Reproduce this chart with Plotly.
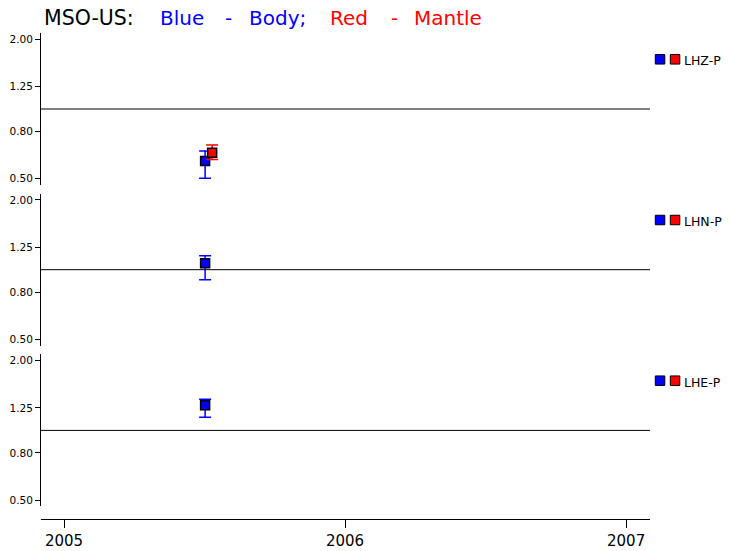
import plotly.graph_objects as go

# ---------------- data ----------------
years = [2005, 2006, 2007]
year_labels = ["2005", "2006", "2007"]
channels = ["LHZ-P", "LHN-P", "LHE-P"]

body_time = [2005.502, 2005.502, 2005.502]
body_val = [0.596, 1.065, 1.285]
body_hi = [0.659, 1.149, 1.362]
body_lo = [0.502, 0.905, 1.139]

mantle_time = [2005.527, None, None]
mantle_val = [0.647, None, None]
mantle_hi = [0.699, None, None]
mantle_lo = [0.606, None, None]

ytick_vals = [0.5, 0.8, 1.25, 2.0]
ytick_text = ["0.50", "0.80", "1.25", "2.00"]
ref_level = 1.0

# ---------------- layout helpers ----------------
W, H = 733, 551
ML, MR, MT, MB = 41, 83, 33, 32
PW, PH = W - ML - MR, H - MT - MB
x_range = [2004.918, 2007.085]
y_range = [-0.328, 0.328]  # log10


def px(x):
    return (x - ML) / PW


def py(y):
    return (H - MB - y) / PH


panel_top = [33, 193.7, 354.4]
panel_h = 152
FONT = "DejaVu Sans"
BLUE = "#0000ff"
RED = "#ff0000"

fig = go.Figure()

for i in range(3):
    yname = "y" if i == 0 else f"y{i+1}"
    # reference line at ratio 1
    fig.add_trace(go.Scatter(
        x=x_range, y=[ref_level, ref_level], mode="lines",
        line=dict(color="black", width=1), xaxis="x", yaxis=yname,
        hoverinfo="skip", showlegend=False, cliponaxis=False))
    # body (blue)
    fig.add_trace(go.Scatter(
        x=[body_time[i]], y=[body_val[i]], mode="markers",
        marker=dict(symbol="square", size=9, color=BLUE,
                    line=dict(color="black", width=1.5)),
        error_y=dict(type="data", symmetric=False,
                     array=[body_hi[i] - body_val[i]],
                     arrayminus=[body_val[i] - body_lo[i]],
                     color=BLUE, thickness=1.5, width=6),
        xaxis="x", yaxis=yname, showlegend=False, cliponaxis=False))
    # mantle (red)
    if mantle_val[i] is not None:
        fig.add_trace(go.Scatter(
            x=[mantle_time[i]], y=[mantle_val[i]], mode="markers",
            marker=dict(symbol="square", size=9, color=RED,
                        line=dict(color="black", width=1.5)),
            error_y=dict(type="data", symmetric=False,
                         array=[mantle_hi[i] - mantle_val[i]],
                         arrayminus=[mantle_val[i] - mantle_lo[i]],
                         color=RED, thickness=1.5, width=6),
            xaxis="x", yaxis=yname, showlegend=False, cliponaxis=False))

yaxis_common = dict(
    type="log", range=y_range, tickmode="array", tickvals=ytick_vals,
    ticktext=ytick_text, ticks="outside", ticklen=5, tickwidth=1,
    tickcolor="black", showline=True, linecolor="black", linewidth=1,
    showgrid=False, zeroline=False, anchor="x", automargin=False,
    tickfont=dict(family=FONT, size=10.5, color="black"))

layout = dict(
    width=W, height=H,
    margin=dict(l=ML, r=MR, t=MT, b=MB, pad=0, autoexpand=False),
    paper_bgcolor="white", plot_bgcolor="white",
    showlegend=False,
    xaxis=dict(range=x_range, anchor="free", position=0, automargin=False,
               tickmode="array", tickvals=years, ticktext=year_labels,
               ticks="outside", ticklen=8, tickwidth=1, tickcolor="black",
               showline=True, linecolor="black", linewidth=1,
               showgrid=False, zeroline=False,
               tickfont=dict(family=FONT, size=15, color="black")),
)
for i in range(3):
    key = "yaxis" if i == 0 else f"yaxis{i+1}"
    top = panel_top[i]
    d = dict(yaxis_common)
    d["domain"] = [py(top + panel_h), py(top)]
    layout[key] = d

fig.update_layout(**layout)

shapes = []
annotations = []
for i in range(3):
    cy = panel_top[i] + 26.3
    for x0, col in [(655.3, BLUE), (670.3, RED)]:
        shapes.append(dict(type="rect", xref="paper", yref="paper",
                           x0=px(x0), x1=px(x0 + 9.5),
                           y0=py(cy + 4.75), y1=py(cy - 4.75),
                           fillcolor=col, line=dict(color="black", width=1)))
    annotations.append(dict(text=channels[i], xref="paper", yref="paper",
                            x=px(681.5), y=py(cy + 1.5), xanchor="left",
                            yanchor="middle", showarrow=False,
                            font=dict(family=FONT, size=12.5, color="black")))

title_tokens = [
    ("MSO-US:", 41.5, "black", 20.5),
    ("Blue", 158, BLUE, 20),
    ("-", 222.5, BLUE, 20),
    ("Body;", 247, BLUE, 20),
    ("Red", 327.5, RED, 20),
    ("-", 388.8, RED, 20),
    ("Mantle", 411.5, RED, 20),
]
for txt, x0, col, fs in title_tokens:
    annotations.append(dict(text=txt, xref="paper", yref="paper",
                            x=px(x0), y=py(18), xanchor="left",
                            yanchor="middle", showarrow=False,
                            font=dict(family=FONT, size=fs, color=col)))

fig.update_layout(shapes=shapes, annotations=annotations)
fig.write_html("out.html",
               config={"displayModeBar": False},
               post_script="document.body.style.margin='0';"
                           "document.body.style.padding='0';")
